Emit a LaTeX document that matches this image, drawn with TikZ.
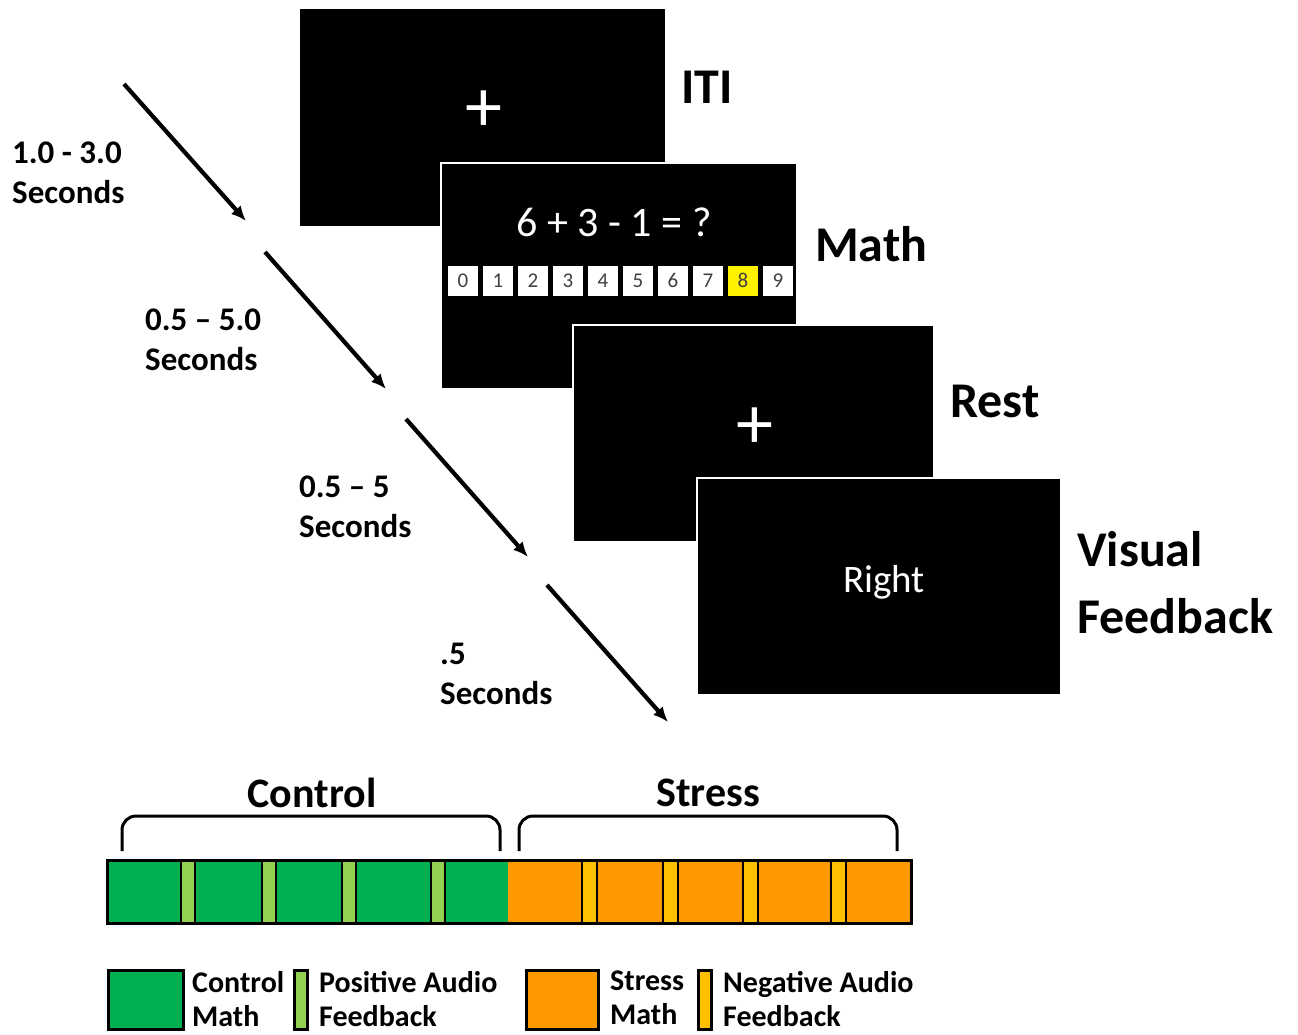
\documentclass[tikz,border=0pt]{standalone}
\usepackage{fontspec}
\setmainfont{Carlito}
\usepackage{xcolor}
\usetikzlibrary{matrix,arrows.meta}

\definecolor{ctrlgreen}{HTML}{00B050}
\definecolor{posgreen}{HTML}{92D050}
\definecolor{stressorange}{HTML}{FF9900}
\definecolor{negyellow}{HTML}{FFC000}

\tikzset{
  screen/.style={fill=black, draw=white, line width=2.5pt, inner sep=0pt},
  stage/.style={font=\fontsize{50}{67}\selectfont\bfseries, anchor=north west, inner sep=0pt, align=left},
  dur/.style={font=\fontsize{33}{40}\selectfont\bfseries, anchor=north west, inner sep=0pt, align=left},
  tick/.style={line width=4.2pt, -{Latex[length=15pt,width=13pt]}},
  digit/.style={fill=white, minimum width=30pt, minimum height=30pt, inner sep=0pt, font=\fontsize{21}{21}\selectfont, text=black!75},
  cross/.style={text=white, inner sep=0pt, font=\fontsize{74}{74}\selectfont},
  group/.style={font=\fontsize{42}{42}\selectfont\bfseries, inner sep=0pt},
  brace/.style={line width=3pt, rounded corners=14pt},
  fbk/.style={draw=black, line width=2pt},
  key/.style={draw=black, line width=3pt},
  keytext/.style={font=\fontsize{30}{34}\selectfont\bfseries, anchor=north west, inner sep=0pt, align=left}
}

\begin{document}
\begin{tikzpicture}[x=1pt, y=-1pt]
  \useasboundingbox (0,0) rectangle (1298,1034);

  % screens
  \node[screen, minimum width=367pt, minimum height=219pt] (iti) at (482.5,117.5) {};
  \node[cross] (itiplus) at (484,111) {+};
  \node[screen, minimum width=356pt, minimum height=226pt] (math) at (619,276) {};
  \node[text=white, inner sep=0pt, font=\fontsize{42}{42}\selectfont] (sum) at (614,222) {6 + 3 - 1 = ?};
  \matrix (M) [matrix of nodes, nodes={digit}, column sep=5pt] at (620.5,281) {
    0 & 1 & 2 & 3 & 4 & 5 & 6 & 7 & |[fill=yellow]| 8 & 9\\
  };
  \node[screen, minimum width=361pt, minimum height=217pt] (rest) at (753.5,433.5) {};
  \node[cross] (restplus) at (755,428) {+};
  \node[screen, minimum width=364pt, minimum height=217pt] (fb) at (879,586.5) {};
  \node[text=white, inner sep=0pt, font=\fontsize{39}{39}\selectfont] (right) at (884,582) {Right};

  % stage names
  \node[stage] (itiL) at (681,71) {ITI};
  \node[stage] (mathL) at (815,226) {Math};
  \node[stage] (restL) at (950,385) {Rest};
  \node[stage] (fbL) at (1077,531) {Visual\\Feedback};

  % durations
  \node[dur] (d1) at (12,142) {1.0 - 3.0\\Seconds};
  \node[dur] (d2) at (145,309) {0.5 -- 5.0\\Seconds};
  \node[dur] (d3) at (299,476) {0.5 -- 5\\Seconds};
  \node[dur] (d4) at (440,643) {.5\\Seconds};

  \coordinate (a1s) at (124,84);  \coordinate (a1e) at (246,221);
  \coordinate (a2s) at (265,252); \coordinate (a2e) at (386,389);
  \coordinate (a3s) at (406,419); \coordinate (a3e) at (528,557);
  \coordinate (a4s) at (547,585); \coordinate (a4e) at (668,722);
  \draw[tick] (a1s) -- (a1e);
  \draw[tick] (a2s) -- (a2e);
  \draw[tick] (a3s) -- (a3e);
  \draw[tick] (a4s) -- (a4e);

  % blocks
  \node[group] (ctrlL) at (312,793) {Control};
  \node[group] (stressL) at (708,793) {Stress};
  \draw[brace] (122,851) -- (122,816) -- (500,816) -- (500,851);
  \draw[brace] (519,851) -- (519,816) -- (897,816) -- (897,851);

  \fill[ctrlgreen] (107,860) rectangle (508,923);
  \fill[stressorange] (508,860) rectangle (911,923);
  \foreach \x in {181,262,342,431}
    \draw[fbk, fill=posgreen] (\x,860) rectangle ++(14,63);
  \foreach \x in {582,663,743,831}
    \draw[fbk, fill=negyellow] (\x,860) rectangle ++(15,63);
  \draw[line width=3pt] (107,860) rectangle (911,923);

  % legend
  \draw[key, fill=ctrlgreen] (108,970) rectangle (183,1029);
  \node[keytext] (k1) at (192,971) {Control\\Math};
  \draw[key, fill=posgreen] (294,970) rectangle (307,1029);
  \node[keytext] (k2) at (319,971) {Positive Audio\\Feedback};
  \draw[key, fill=stressorange] (526,970) rectangle (598,1029);
  \node[keytext] (k3) at (610,971) {Stress\\Math};
  \draw[key, fill=negyellow] (698,970) rectangle (711,1029);
  \node[keytext] (k4) at (723,971) {Negative Audio\\Feedback};
\end{tikzpicture}
\end{document}
